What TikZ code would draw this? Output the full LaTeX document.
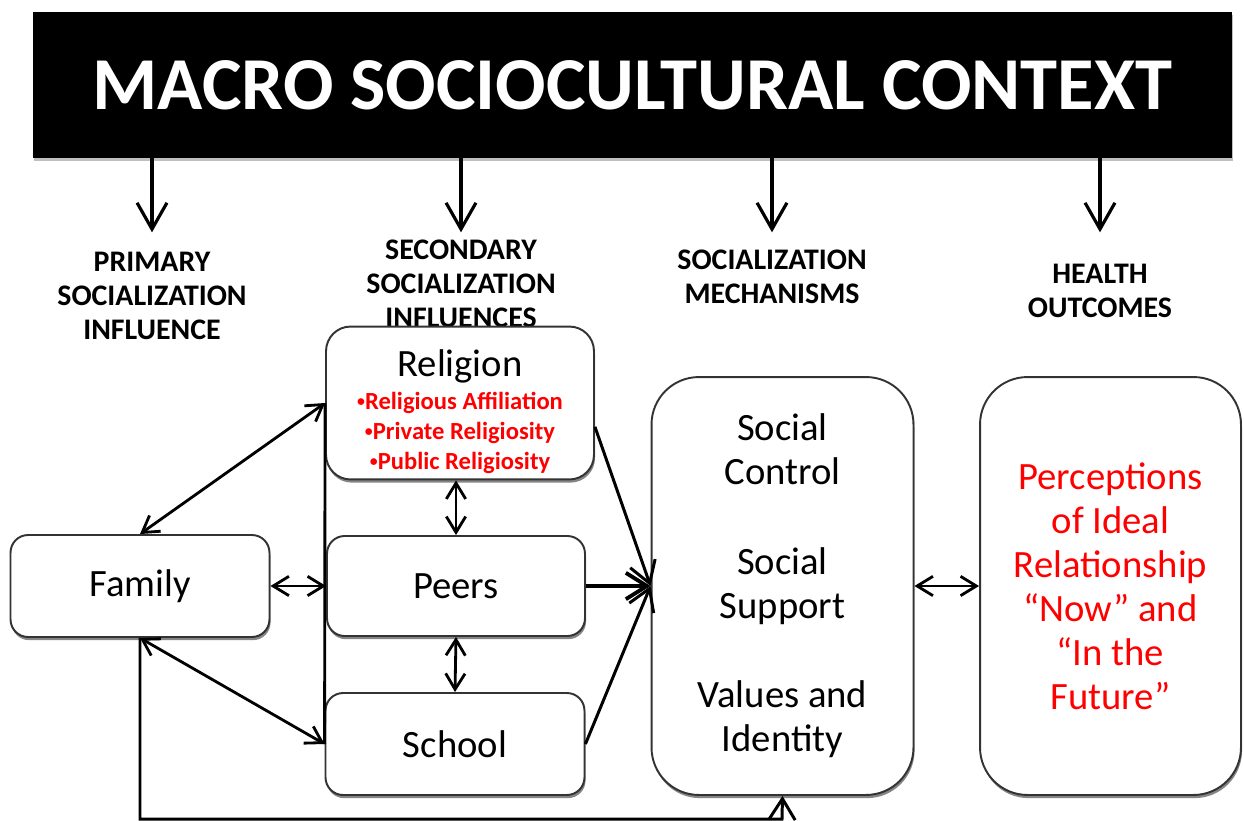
\documentclass[tikz,border=0pt]{standalone}
\usepackage{fontspec}
\setmainfont{Carlito}
\usetikzlibrary{arrows.meta,shadows}
\newcommand{\redbullet}{\raisebox{1.6pt}{\fontsize{9}{9}\selectfont •}}

\begin{document}
\begin{tikzpicture}[x=0.02cm,y=-0.02cm,
  box/.style={draw=black!80,line width=1.1pt,fill=white,rounded corners=10pt,align=center,
    font=\fontsize{22}{25}\selectfont,
    drop shadow={shadow xshift=0.6pt,shadow yshift=-1.8pt,fill=black!60,opacity=0.8}},
  tall/.style={box,rounded corners=27pt,minimum width=5.24cm,minimum height=8.36cm},
  heading/.style={align=center,font=\bfseries\fontsize{17}{19.3}\selectfont},
  drop/.style={line width=1.8pt,-{Straight Barb[length=15pt,width=17pt]}},
  link/.style={line width=1.6pt,{Straight Barb[length=9pt,width=11pt]}-{Straight Barb[length=9pt,width=11pt]}},
  feed/.style={line width=1.7pt,-{Straight Barb[length=12pt,width=15pt]}}]
\useasboundingbox (0,0) rectangle (1244,821);

% banner and column headings
\node[fill=black,text=white,minimum width=23.98cm,minimum height=2.92cm,
  font=\bfseries\fontsize{42.5}{48}\selectfont,
  drop shadow={shadow xshift=0.6pt,shadow yshift=-1.5pt,fill=black!50}] (banner) at (632.5,85) {MACRO SOCIOCULTURAL CONTEXT};
\node[heading] (primary) at (152,296) {PRIMARY\\SOCIALIZATION\\INFLUENCE};
\node[heading] (secondary) at (461,284) {SECONDARY\\SOCIALIZATION\\INFLUENCES};
\node[heading] (mechanisms) at (772,277) {SOCIALIZATION\\MECHANISMS};
\node[heading] (outcomes) at (1100,291) {HEALTH\\OUTCOMES};
\foreach \h in {primary,secondary,mechanisms,outcomes}
  \draw[drop] (banner.south -| \h) -- ++(0,74);

% influence boxes
\node[box,minimum width=5.18cm,minimum height=2.04cm] (family) at (140,586) {Family};
\node[box,rounded corners=14pt,minimum width=5.36cm,minimum height=3cm,text=red,
  font=\bfseries\fontsize{14}{17}\selectfont] (religion) at (460,403)
  {{\mdseries\color{black}\fontsize{22}{25}\selectfont\rule{0pt}{25pt}Religion}\\[2pt]
   \redbullet Religious Affiliation\\\redbullet Private Religiosity\\
   \redbullet Public Religiosity};
\node[box,minimum width=5.16cm,minimum height=2cm] (peers) at (456,586) {Peers};
\node[box,minimum width=5.18cm,minimum height=2.04cm] (school) at (455,744) {School};

% mechanisms and outcome
\node[tall] (social) at (782.5,586) {Social\\Control\\[26pt]Social\\Support\\[26pt]Values and\\Identity};
\node[tall,text=red,minimum width=5.22cm] (health) at (1110.5,586)
  {Perceptions\\of Ideal\\Relationship\\“Now” and\\“In the\\Future”};

% links between influences
\draw[line width=1.6pt] (religion.west) -- (school.west);
\draw[link] (family.north) -- (religion.west);
\draw[link] (family.south) -- (school.west);
\draw[link] (family.east) -- (peers.west);
\draw[link] (religion.south -| peers.north) -- (peers.north);
\draw[link] (peers.south) -- (school.north);

% into the mechanisms
\draw[feed] (religion.-10) -- (social.west);
\draw[feed,line width=2.2pt] (peers.east) -- (social.west);
\draw[feed] (school.east) -- (social.west);
\draw[link] (social.east) -- (health.west);
\coordinate (loop) at (782,819);
\draw[feed] (family.south) |- (loop) -- (social.south);
\end{tikzpicture}
\end{document}
